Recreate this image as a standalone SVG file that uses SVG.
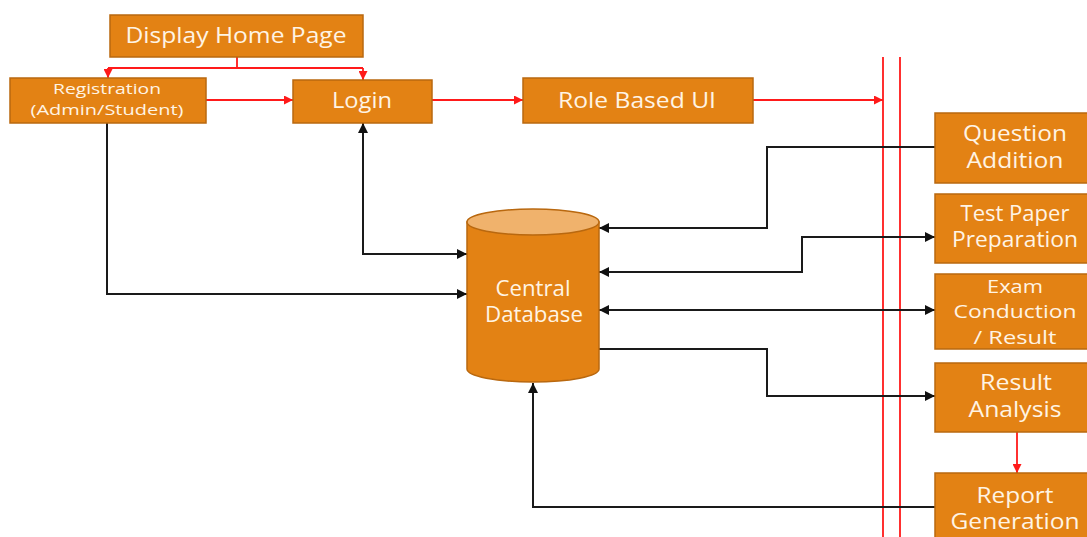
<svg xmlns="http://www.w3.org/2000/svg" width="1087" height="537" viewBox="0 0 1087 537">
<style>
.box{fill:#E38214;stroke:#B9680F;stroke-width:1.5}
.t{font-family:"Open Sans","Noto Sans",sans-serif;font-size:21px;fill:#FFF4E4;text-anchor:middle}
.s{font-size:14px}
.m{font-size:19px}
.red{fill:none;stroke:#FF1A1A;stroke-width:1.8}
.blk{fill:none;stroke:#1a1a1a;stroke-width:2}
</style>
<defs>
<marker id="ar" viewBox="0 0 10 10" refX="10" refY="5" markerWidth="10" markerHeight="9" markerUnits="userSpaceOnUse" orient="auto-start-reverse"><path d="M0,0 L10,5 L0,10 z" fill="#FF1A1A"/></marker>
<marker id="ab" viewBox="0 0 10 10" refX="10" refY="5" markerWidth="11" markerHeight="10" markerUnits="userSpaceOnUse" orient="auto-start-reverse"><path d="M0,0 L10,5 L0,10 z" fill="#111"/></marker>
</defs>
<rect width="1087" height="537" fill="#fff"/>
<g id="connectors">
<path class="red" d="M883,57 V537 M900,57 V537"/>
<path class="red" d="M237,57 V68 M108,68 H363"/>
<path class="red" d="M108,68 V78" marker-end="url(#ar)"/>
<path class="red" d="M363,68 V80" marker-end="url(#ar)"/>
<path class="red" d="M206,100 H293" marker-end="url(#ar)"/>
<path class="red" d="M432,100 H523" marker-end="url(#ar)"/>
<path class="red" d="M753,100 H883" marker-end="url(#ar)"/>
<path class="red" d="M1017,432 V473" marker-end="url(#ar)"/>
<path class="blk" d="M363,123 V254 H467" marker-start="url(#ab)" marker-end="url(#ab)"/>
<path class="blk" d="M107,123 V294 H467" marker-end="url(#ab)"/>
<path class="blk" d="M935,147 H767 V228 H599" marker-end="url(#ab)"/>
<path class="blk" d="M599,272 H802 V237 H935" marker-start="url(#ab)" marker-end="url(#ab)"/>
<path class="blk" d="M599,310 H935" marker-start="url(#ab)" marker-end="url(#ab)"/>
<path class="blk" d="M599,349 H767 V396 H935" marker-end="url(#ab)"/>
<path class="blk" d="M935,507 H533 V383" marker-end="url(#ab)"/>
</g>
<g id="display-home">
<rect class="box" x="110" y="15" width="253" height="42"/>
<text class="t" x="236" y="43" textLength="221" lengthAdjust="spacingAndGlyphs">Display Home Page</text>
</g>
<g id="registration">
<rect class="box" x="10" y="78" width="196" height="45"/>
<text class="t s" x="107" y="94" textLength="108" lengthAdjust="spacingAndGlyphs">Registration</text>
<text class="t s" x="107" y="115" textLength="153" lengthAdjust="spacingAndGlyphs">(Admin/Student)</text>
</g>
<g id="login">
<rect class="box" x="293" y="80" width="139" height="43"/>
<text class="t" x="362" y="108" textLength="60" lengthAdjust="spacingAndGlyphs">Login</text>
</g>
<g id="role-ui">
<rect class="box" x="523" y="78" width="230" height="45"/>
<text class="t" x="637" y="108" textLength="158" lengthAdjust="spacingAndGlyphs">Role Based UI</text>
</g>
<g id="database">
<path d="M467,222 V369 A66,13 0 0 0 599,369 V222 Z" fill="#E38214" stroke="#B9680F" stroke-width="1.5"/>
<ellipse cx="533" cy="222" rx="66" ry="13" fill="#F0B26C" stroke="#B9680F" stroke-width="1.5"/>
<text class="t" x="533" y="296" textLength="75" lengthAdjust="spacingAndGlyphs">Central</text>
<text class="t" x="534" y="322" textLength="98" lengthAdjust="spacingAndGlyphs">Database</text>
</g>
<g id="question-addition">
<rect class="box" x="935" y="113" width="160" height="70"/>
<text class="t" x="1015" y="141" textLength="104" lengthAdjust="spacingAndGlyphs">Question</text>
<text class="t" x="1015" y="168" textLength="97" lengthAdjust="spacingAndGlyphs">Addition</text>
</g>
<g id="test-paper">
<rect class="box" x="935" y="194" width="160" height="69"/>
<text class="t" x="1015" y="221" textLength="109" lengthAdjust="spacingAndGlyphs">Test Paper</text>
<text class="t" x="1015" y="247" textLength="126" lengthAdjust="spacingAndGlyphs">Preparation</text>
</g>
<g id="exam">
<rect class="box" x="935" y="274" width="160" height="75"/>
<text class="t m" x="1015" y="293" textLength="56" lengthAdjust="spacingAndGlyphs">Exam</text>
<text class="t m" x="1015" y="318" textLength="123" lengthAdjust="spacingAndGlyphs">Conduction</text>
<text class="t m" x="1015" y="344" textLength="83" lengthAdjust="spacingAndGlyphs">/ Result</text>
</g>
<g id="result-analysis">
<rect class="box" x="935" y="363" width="160" height="69"/>
<text class="t" x="1016" y="390" textLength="72" lengthAdjust="spacingAndGlyphs">Result</text>
<text class="t" x="1015" y="417" textLength="93" lengthAdjust="spacingAndGlyphs">Analysis</text>
</g>
<g id="report-generation">
<rect class="box" x="935" y="473" width="160" height="80"/>
<text class="t" x="1015" y="503" textLength="77" lengthAdjust="spacingAndGlyphs">Report</text>
<text class="t" x="1015" y="529" textLength="129" lengthAdjust="spacingAndGlyphs">Generation</text>
</g>
</svg>
